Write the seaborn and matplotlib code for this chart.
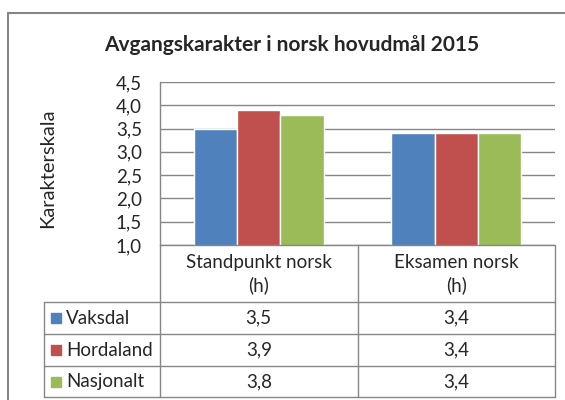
import seaborn as sns
import pandas as pd
import matplotlib.pyplot as plt
from matplotlib.patches import Rectangle
from matplotlib.lines import Line2D

# data
categories = ['Standpunkt norsk\n(h)', 'Eksamen norsk\n(h)']
regions = ['Vaksdal', 'Hordaland', 'Nasjonalt']
vaksdal = [3.5, 3.4]
hordaland = [3.9, 3.4]
nasjonalt = [3.8, 3.4]
colors = ['#4F81BD', '#C0504D', '#9BBB59']
yticks = [1.0, 1.5, 2.0, 2.5, 3.0, 3.5, 4.0, 4.5]

values = [vaksdal, hordaland, nasjonalt]
df = pd.DataFrame({
    'Kategori': [c for r in regions for c in categories],
    'Område': [r for r in regions for c in categories],
    'Karakter': [v for vals in values for v in vals],
})

sns.set_style('white')
plt.rcParams['font.family'] = ['Lato', 'DejaVu Sans']
grey = '#868686'
W, H = 565, 400
fs = 13.5

fig = plt.figure(figsize=(5.65, 4.0), dpi=100)

def fx(px):
    return px / W

def fy(py):
    return 1 - py / H

# outer chart border
fig.add_artist(Line2D([fx(8), fx(8)], [fy(13), 0], color=grey, lw=1.5))
fig.add_artist(Line2D([fx(8), 1], [fy(13), fy(13)], color=grey, lw=1.5))

fig.text(fx(292), fy(45), 'Avgangskarakter i norsk hovudmål 2015',
         ha='center', va='center', fontsize=15, fontweight='bold')
fig.text(fx(48), fy(168), 'Karakterskala', rotation=90,
         ha='center', va='center', fontsize=14.5)

# plot area
ax = fig.add_axes([fx(160), fy(245), fx(555 - 160), (245 - 82) / H])
sns.barplot(data=df, x='Kategori', y='Karakter', hue='Område',
            palette=colors, width=0.66, legend=False, ax=ax,
            saturation=1, errorbar=None)
ax.set_xlim(-0.5, 1.5)
ax.set_ylim(1.0, 4.5)
ax.set_yticks(yticks)
ax.set_yticklabels([f'{t:.1f}'.replace('.', ',') for t in yticks], fontsize=fs)
ax.tick_params(axis='y', length=0, pad=13)
ax.set_xticks([])
ax.set_xlabel('')
ax.set_ylabel('')
ax.grid(axis='y', color=grey, lw=1)
ax.set_axisbelow(True)
for side in ['top', 'right', 'bottom']:
    ax.spines[side].set_visible(False)
ax.spines['left'].set_color(grey)
ax.spines['left'].set_linewidth(1)

# data table below the plot
x_left = -0.5 - (160 - 44) / 197.5
tab = fig.add_axes([fx(44), fy(397), fx(555 - 44), (397 - 245) / H])
tab.set_xlim(x_left, 1.5)
tab.set_ylim(152, 0)
tab.axis('off')
row_edges = [0, 57, 89, 121, 152]
lk = dict(color=grey, lw=1, clip_on=False)
tab.plot([-0.5, 1.5], [0, 0], **lk)
for x in [-0.5, 0.5, 1.5]:
    tab.plot([x, x], [0, 152], **lk)
tab.plot([x_left, x_left], [57, 152], **lk)
for y in row_edges[1:]:
    tab.plot([x_left, 1.5], [y, y], **lk)

for i, cat in enumerate(categories):
    tab.text(i, 29, cat, ha='center', va='center', fontsize=fs,
             linespacing=1.3)

sq = 10 / 197.5
for r, (name, vals, col) in enumerate(zip(regions, values, colors)):
    yc = (row_edges[r + 1] + row_edges[r + 2]) / 2
    tab.add_patch(Rectangle((x_left + 7 / 197.5, yc - 5), sq, 10,
                            color=col, clip_on=False))
    tab.text(x_left + 22 / 197.5, yc, name, ha='left', va='center',
             fontsize=fs)
    for i, v in enumerate(vals):
        tab.text(i, yc, f'{v:.1f}'.replace('.', ','), ha='center',
                 va='center', fontsize=fs)

fig.savefig('out.png', dpi=100)
